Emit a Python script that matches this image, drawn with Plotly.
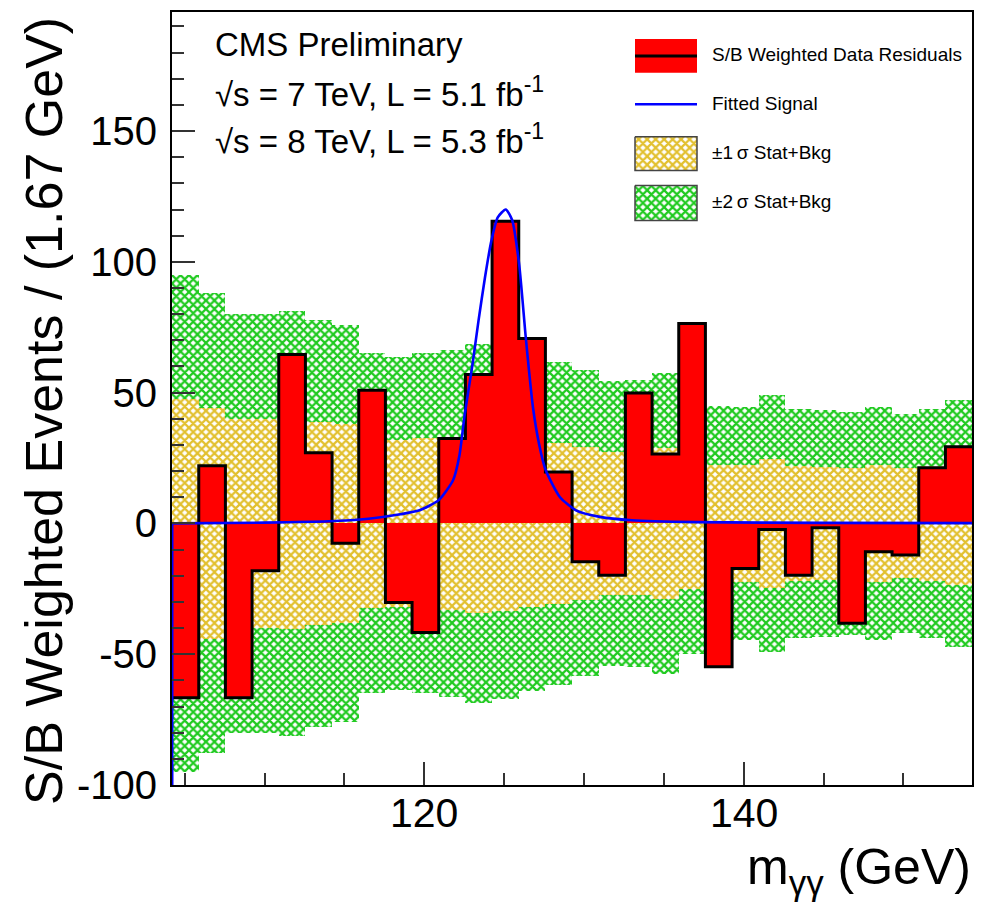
import plotly.graph_objects as go

# ---------------- data ----------------
bin_centers = [105.04, 106.71, 108.38, 110.05, 111.72, 113.39, 115.06, 116.73, 118.40, 120.07,
               121.74, 123.41, 125.08, 126.75, 128.42, 130.09, 131.76, 133.43, 135.10, 136.77,
               138.44, 140.11, 141.78, 143.45, 145.12, 146.79, 148.46, 150.13, 151.80, 153.47]
bin_width = 1.67

residuals = [-66.6, 22.0, -66.6, -18.1, 64.6, 27.0, -7.6, 50.9, -30.2, -41.7,
             32.5, 56.9, 115.5, 70.7, 19.7, -14.7, -19.8, 49.9, 26.5, 76.4,
             -54.8, -17.2, -2.3, -19.8, -1.7, -38.2, -10.8, -12.1, 21.3, 29.3]

band_2sigma = [94.9, 87.9, 80.2, 80.2, 81.1, 77.7, 75.8, 65.0, 63.7, 65.0,
               66.2, 68.7, 67.0, 64.0, 61.8, 58.5, 54.6, 54.8, 57.6, 50.0,
               44.7, 44.6, 49.0, 43.9, 43.3, 42.7, 44.6, 42.0, 43.9, 47.1]

band_1sigma = [47.5, 44.0, 40.1, 40.1, 40.5, 38.8, 37.9, 32.5, 31.8, 32.5,
               33.1, 34.3, 33.5, 32.0, 30.9, 29.2, 27.3, 27.4, 28.8, 25.0,
               22.4, 22.3, 24.5, 22.0, 21.6, 21.3, 22.3, 21.0, 22.0, 23.5]

signal_mass = [104.2, 110.0, 114.0, 116.5, 118.5, 119.7, 120.9, 121.8, 122.2, 122.54,
               123.0, 123.4, 123.8, 124.2, 124.6, 125.1, 125.5, 125.94, 126.36, 126.8,
               127.2, 127.6, 128.5, 129.5, 131.0, 133.0, 137.0, 145.0, 154.3]
signal_value = [0.0, 0.3, 0.8, 1.8, 3.5, 5.0, 8.9, 16.5, 26.0, 42.0,
                60.0, 77.7, 94.0, 108.0, 117.0, 120.0, 116.0, 99.0, 70.7, 44.6,
                30.0, 20.4, 10.0, 5.0, 2.5, 1.2, 0.5, 0.2, 0.1]
# drawing artefact of the fitted signal at the left edge of the frame
signal_edge_mass = [104.2, 104.2]
signal_edge_value = [-100.0, 0.0]

x_range = [104.2, 154.3]
y_range = [-100.0, 195.5]
x_tick_values = [120, 140]
x_tick_labels = ["120", "140"]
y_tick_values = [-100, -50, 0, 50, 100, 150]
y_tick_labels = ["-100", "-50", "0", "50", "100", "150"]

legend_labels = ["S/B Weighted Data Residuals", "Fitted Signal",
                 "\u00b11\u2009\u03c3 Stat+Bkg", "\u00b12\u2009\u03c3 Stat+Bkg"]
info_lines = ["CMS Preliminary",
              "\u221as = 7 TeV, L = 5.1 fb<sup>-1</sup>",
              "\u221as = 8 TeV, L = 5.3 fb<sup>-1</sup>"]
x_title = "m<sub>\u03b3\u03b3</sub> (GeV)"
y_title = "S/B Weighted Events / (1.67 GeV)"

# ---------------- styles ----------------
FONT = "Liberation Sans, Arial, Helvetica, sans-serif"
W, H = 987, 908
L, R, T, B = 172, 15, 10, 123
GREEN = "#1fca1f"
YELLOW = "#e2c02e"
RED = "#ff0000"
BLUE = "#0000ff"

def px(x):
    return (x - L) / (W - L - R)

def py(y):
    return (H - B - y) / (H - T - B)

edges = [c - bin_width / 2 for c in bin_centers] + [bin_centers[-1] + bin_width / 2]

fig = go.Figure()

# +-2 sigma band
fig.add_trace(go.Bar(
    x=bin_centers, y=[2 * s for s in band_2sigma], base=[-s for s in band_2sigma],
    width=bin_width, showlegend=False, hoverinfo="skip",
    marker=dict(color="white", line=dict(width=0),
                pattern=dict(shape="x", fgcolor=GREEN, bgcolor="white", size=6,
                             solidity=0.6, fillmode="replace")),
))
# +-1 sigma band
fig.add_trace(go.Bar(
    x=bin_centers, y=[2 * s for s in band_1sigma], base=[-s for s in band_1sigma],
    width=bin_width, showlegend=False, hoverinfo="skip",
    marker=dict(color="white", line=dict(width=0),
                pattern=dict(shape="x", fgcolor=YELLOW, bgcolor="white", size=6,
                             solidity=0.6, fillmode="replace")),
))
# residual histogram fill
fig.add_trace(go.Bar(
    x=bin_centers, y=residuals, width=bin_width, showlegend=False,
    marker=dict(color=RED, line=dict(width=0)),
))
# histogram outline
fig.add_trace(go.Scatter(
    x=edges, y=residuals + [residuals[-1]], mode="lines", line_shape="hv",
    line=dict(color="black", width=3), showlegend=False, hoverinfo="skip",
))
# fitted signal
fig.add_trace(go.Scatter(
    x=signal_mass, y=signal_value, mode="lines", line_shape="spline",
    line=dict(color=BLUE, width=2.6, smoothing=0.6), showlegend=False,
))
fig.add_trace(go.Scatter(
    x=signal_edge_mass, y=signal_edge_value, mode="lines",
    line=dict(color=BLUE, width=3), showlegend=False, hoverinfo="skip",
))

# ---------------- legend drawn in pixel space (overlay axes) ----------------
def box(x0, y0, x1, y1):
    return [x0, x1, x1, x0, x0], [y0, y0, y1, y1, y0]

bx0, bx1 = 635, 697
xs, ys = box(bx0, 37, bx1, 71)
fig.add_trace(go.Scatter(x=xs, y=ys, xaxis="x2", yaxis="y2", mode="lines", fill="toself",
                         fillcolor=RED, line=dict(width=0, color=RED), showlegend=False, hoverinfo="skip"))
fig.add_trace(go.Scatter(x=[bx0, bx1], y=[54, 54], xaxis="x2", yaxis="y2", mode="lines",
                         line=dict(color="black", width=3), showlegend=False, hoverinfo="skip"))
fig.add_trace(go.Scatter(x=[bx0, bx1], y=[102.5, 102.5], xaxis="x2", yaxis="y2", mode="lines",
                         line=dict(color=BLUE, width=2.6), showlegend=False, hoverinfo="skip"))
for (y0, y1), col in [((135, 169), YELLOW), ((184, 219), GREEN)]:
    xs, ys = box(bx0, y0, bx1, y1)
    fig.add_trace(go.Scatter(x=xs, y=ys, xaxis="x2", yaxis="y2", mode="lines", fill="toself",
                             fillcolor="white",
                             fillpattern=dict(shape="x", fgcolor=col, bgcolor="white", size=6,
                                              solidity=0.6, fillmode="replace"),
                             line=dict(width=1.5, color="#444444"), showlegend=False, hoverinfo="skip"))

annotations = []
for label, yc in zip(legend_labels, [53, 102, 151, 200]):
    annotations.append(dict(x=px(710), y=py(yc), xref="paper", yref="paper", text=label,
                            showarrow=False, xanchor="left", yanchor="middle",
                            font=dict(family=FONT, size=19, color="black")))
for line, yc in zip(info_lines, [43, 90, 137]):
    annotations.append(dict(x=px(213), y=py(yc), xref="paper", yref="paper", text=line,
                            showarrow=False, xanchor="left", yanchor="middle",
                            font=dict(family=FONT, size=33, color="black")))
# x tick labels placed as text just below the frame
for val, lab in zip(x_tick_values, x_tick_labels):
    annotations.append(dict(x=val, y=py(813), xref="x", yref="paper", text=lab,
                            showarrow=False, xanchor="center", yanchor="middle",
                            font=dict(family=FONT, size=41, color="black")))
annotations.append(dict(x=px(973), y=py(871), xref="paper", yref="paper", text=x_title,
                        showarrow=False, xanchor="right", yanchor="middle",
                        font=dict(family=FONT, size=50, color="black")))
annotations.append(dict(x=px(44), y=py(410), xref="paper", yref="paper", text=y_title,
                        showarrow=False, xanchor="center", yanchor="middle", textangle=-90,
                        font=dict(family=FONT, size=52, color="black")))

axis_common = dict(showgrid=False, zeroline=False, showline=True, mirror=True,
                   linecolor="black", linewidth=2, ticks="inside", ticklen=23,
                   tickwidth=1.5, tickcolor="#333333")

fig.update_layout(
    width=W, height=H, margin=dict(l=L, r=R, t=T, b=B, pad=0),
    paper_bgcolor="white", plot_bgcolor="white",
    barmode="overlay", bargap=0, showlegend=False,
    xaxis=dict(range=x_range, tickmode="array", tickvals=x_tick_values, ticktext=x_tick_labels,
               showticklabels=False,
               minor=dict(ticks="inside", ticklen=12, tickwidth=1.5, tickcolor="#333333",
                          dtick=5, tick0=0),
               **axis_common),
    yaxis=dict(range=y_range, tickmode="array", tickvals=y_tick_values, ticktext=y_tick_labels,
               tickfont=dict(family=FONT, size=40, color="black"),
               minor=dict(ticks="inside", ticklen=12, tickwidth=1.5, tickcolor="#333333",
                          dtick=10, tick0=0),
               ticklabelstandoff=5, **axis_common),
    xaxis2=dict(overlaying="x", range=[L, W - R], visible=False, fixedrange=True),
    yaxis2=dict(overlaying="y", range=[H - B, T], visible=False, fixedrange=True),
    annotations=annotations,
)

fig.write_html("out.html")
